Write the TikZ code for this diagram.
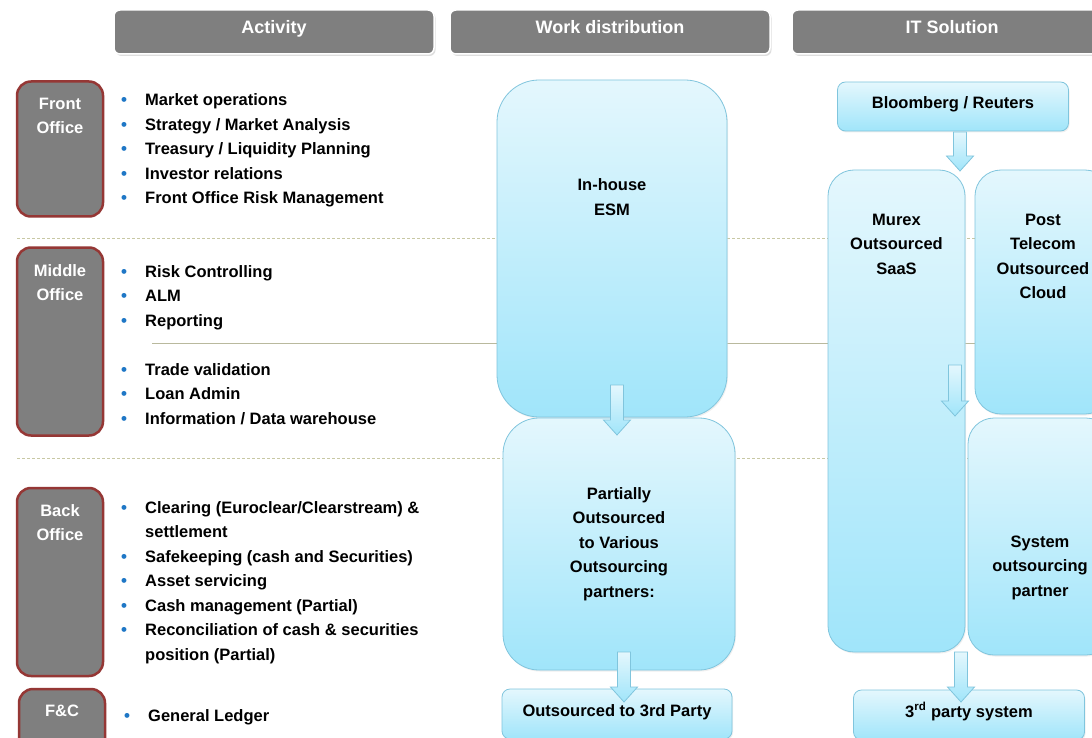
\documentclass[tikz,border=0pt]{standalone}
\usepackage{fontspec}
\setmainfont{Liberation Sans}
\usetikzlibrary{positioning,calc,shadows}

\definecolor{headgray}{HTML}{7F7F7F}
\definecolor{catred}{HTML}{953735}
\definecolor{boxtop}{HTML}{E4F7FD}
\definecolor{boxbot}{HTML}{A0E5FA}
\definecolor{boxline}{HTML}{80C5DD}
\definecolor{sepcolor}{HTML}{C8C8A4}
\definecolor{bulblue}{HTML}{1F77C6}

\newcommand{\bul}{\textcolor{bulblue}{\fontsize{17}{17}\selectfont\textbullet}}
\newcommand{\flowarrow}[2]{%
  \path[flowfill] let \p1=(#1), \p2=(#2) in
    (\x1-6.5pt,\y1) -- (\x1+6.5pt,\y1) -- (\x1+6.5pt,\y2+15pt) -- (\x1+13.5pt,\y2+15pt)
    -- (\x2,\y2) -- (\x1-13.5pt,\y2+15pt) -- (\x1-6.5pt,\y2+15pt) -- cycle;}

\begin{document}
\begin{tikzpicture}[x=1pt,y=-1pt,
  headbox/.style={rectangle,rounded corners=6pt,fill=headgray,draw=white,line width=1.5pt,
    minimum width=320pt,minimum height=44pt,text=white,text height=3pt,text depth=0pt,
    font=\fontsize{18}{20}\selectfont\bfseries,
    drop shadow={shadow xshift=1.5pt,shadow yshift=-2pt,fill=black!25}},
  catbox/.style={rectangle,rounded corners=14pt,fill=headgray,draw=catred,line width=2.5pt,
    minimum width=86pt},
  cattext/.style={text=white,align=center,inner sep=0pt,font=\fontsize{16.5}{24}\selectfont\bfseries},
  itemlist/.style={anchor=base west,inner sep=0pt,font=\fontsize{16.5}{24.5}\selectfont\bfseries},
  bluebox/.style={rectangle,top color=boxtop,bottom color=boxbot,draw=boxline,line width=0.8pt,
    inner sep=0pt,align=center,font=\fontsize{16.5}{24.5}\selectfont\bfseries,
    drop shadow={shadow xshift=1pt,shadow yshift=-1.5pt,fill=black!12}},
  slimbox/.style={bluebox,rounded corners=8pt,minimum width=231pt,minimum height=50pt,
    text height=12pt,text depth=8pt},
  boxtext/.style={inner sep=0pt,align=center,font=\fontsize{16.5}{24.5}\selectfont\bfseries},
  flowfill/.style={top color=boxtop,bottom color=boxbot,draw=boxline,line width=0.8pt},
  divider/.style={draw=sepcolor,line width=0.8pt,dash pattern=on 3pt off 2pt},
  rowline/.style={draw=sepcolor!80!gray,line width=0.7pt}]

  \useasboundingbox (0,0) rectangle (1092,738);
  \fill[white] (0,0) rectangle (1092,738);

  % separators
  \draw[divider] (17,238) -- (1092,238);
  \draw[divider] (17,458) -- (1092,458);
  \draw[rowline] (152,343) -- (1092,343);

  % column headers
  \node[headbox] (act) at (274,32) {Activity};
  \node[headbox] (work) at (610,32) {Work distribution};
  \node[headbox] (its) at (952,32) {IT Solution};

  % activity groups
  \node[catbox,minimum height=135pt] (fo) at (60,149) {};
  \node[cattext,below=18pt of fo.north] (fotxt) {Front\\Office};
  \node[catbox,minimum height=188pt] (mo) at (60,341.5) {};
  \node[cattext,below=18pt of mo.north] (motxt) {Middle\\Office};
  \node[catbox,minimum height=188pt] (bo) at (60,582) {};
  \node[cattext,below=18pt of bo.north] (botxt) {Back\\Office};
  \node[catbox,minimum height=80pt] (fc) at (62,729) {};
  \node[cattext,below=17pt of fc.north] (fctxt) {F\&C};

  \node[itemlist] (folist) at (121,106) {\begin{tabular}[t]{@{}p{24pt}@{}l@{}}
    \bul & Market operations\\
    \bul & Strategy / Market Analysis\\
    \bul & Treasury / Liquidity Planning\\
    \bul & Investor relations\\
    \bul & Front Office Risk Management
  \end{tabular}};
  \node[itemlist] (molist) at (121,277) {\begin{tabular}[t]{@{}p{24pt}@{}l@{}}
    \bul & Risk Controlling\\
    \bul & ALM\\
    \bul & Reporting
  \end{tabular}};
  \node[itemlist] (molist2) at (121,375) {\begin{tabular}[t]{@{}p{24pt}@{}l@{}}
    \bul & Trade validation\\
    \bul & Loan Admin\\
    \bul & Information / Data warehouse
  \end{tabular}};
  \node[itemlist] (bolist) at (121,513) {\begin{tabular}[t]{@{}p{24pt}@{}l@{}}
    \bul & Clearing (Euroclear/Clearstream) \&\\
         & settlement\\
    \bul & Safekeeping (cash and Securities)\\
    \bul & Asset servicing\\
    \bul & Cash management (Partial)\\
    \bul & Reconciliation of cash \& securities\\
         & position (Partial)
  \end{tabular}};
  \node[itemlist] (fclist) at (124,721) {\begin{tabular}[t]{@{}p{24pt}@{}l@{}}
    \bul & General Ledger
  \end{tabular}};

  % work distribution
  \node[bluebox,rounded corners=42pt,minimum width=230pt,minimum height=337pt] (esm) at (612,248.5) {};
  \node[boxtext,below=99pt of esm.north] (esmtxt) {In-house\\ESM};
  \node[bluebox,rounded corners=36pt,minimum width=232pt,minimum height=252pt] (part) at (619,544)
    {Partially\\Outsourced\\to Various\\Outsourcing\\partners:};
  \node[slimbox,minimum width=230pt] (out3) at (617,714) {Outsourced to 3rd Party};

  % IT solution
  \node[slimbox,minimum height=49pt] (bloom) at (953,106.5) {Bloomberg / Reuters};
  \node[bluebox,rounded corners=26pt,minimum width=137pt,minimum height=482pt] (murex) at (896.5,411) {};
  \node[boxtext,below=44pt of murex.north] (murextxt) {Murex\\Outsourced\\SaaS};
  \node[bluebox,rounded corners=26pt,minimum width=136pt,minimum height=244pt] (post) at (1043,292) {};
  \node[boxtext,below=44pt of post.north] (posttxt) {Post\\Telecom\\Outsourced\\Cloud};
  \node[bluebox,rounded corners=26pt,minimum width=144pt,minimum height=237pt] (sys) at (1040,536.5) {};
  \node[boxtext,below=118pt of sys.north] (systxt) {System\\outsourcing\\partner};
  \node[slimbox] (third) at (969,715) {3\textsuperscript{rd} party system};

  % arrows
  \coordinate (esm-out) at (617,385);
  \coordinate (part-in) at (617,435);
  \coordinate (part-out) at (624,652);
  \coordinate (out3-in) at (624,702);
  \coordinate (bloom-out) at (960,132);
  \coordinate (murex-in) at (960,171);
  \coordinate (murex-mid) at (955,365);
  \coordinate (sys-in) at (955,416);
  \coordinate (murex-out) at (961,652);
  \coordinate (third-in) at (961,702);
  \flowarrow{esm-out}{part-in}
  \flowarrow{part-out}{out3-in}
  \flowarrow{bloom-out}{murex-in}
  \flowarrow{murex-mid}{sys-in}
  \flowarrow{murex-out}{third-in}
\end{tikzpicture}
\end{document}
